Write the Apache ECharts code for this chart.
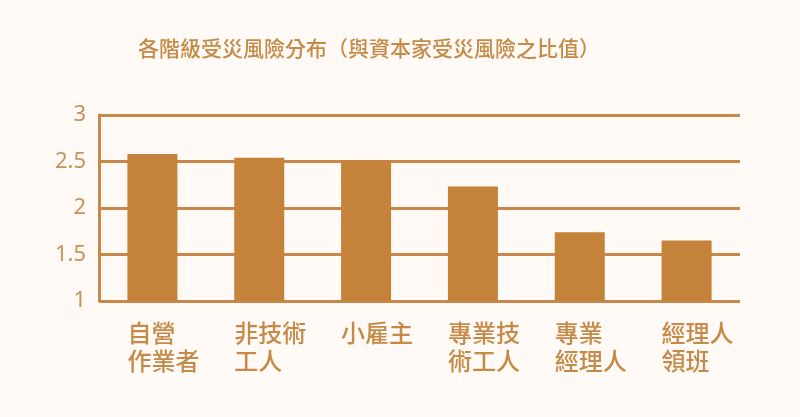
<!DOCTYPE html>
<html>
<head>
<meta charset="utf-8">
<script src="https://cdn.jsdelivr.net/npm/echarts@6/dist/echarts.min.js"></script>
<style>
html,body{margin:0;padding:0;background:#fffaf5;}
#chart{width:800px;height:417px;}
</style>
</head>
<body>
<div id="chart"></div>
<script>
const titleText = '各階級受災風險分布（與資本家受災風險之比值）';
const categories = ['自營\n作業者', '非技術\n工人', '小雇主', '專業技\n術工人', '專業\n經理人', '經理人\n領班'];
const values = [2.58, 2.54, 2.51, 2.23, 1.74, 1.65];
const yTicks = { min: 1, max: 3, interval: 0.5 };

const fontFam = '"Noto Sans CJK TC", "Noto Sans", sans-serif';
const textColor = '#c68a48';
const lineColor = '#c8884a';
const barColor = '#c4823b';

const chart = echarts.init(document.getElementById('chart'));
chart.setOption({
  backgroundColor: '#fffaf5',
  animation: false,
  title: {
    text: titleText,
    left: 133,
    top: 33,
    textStyle: { fontFamily: fontFam, fontSize: 21, fontWeight: 500, color: textColor }
  },
  grid: { left: 99, right: 60, top: 115, bottom: 116, containLabel: false },
  xAxis: {
    type: 'category',
    data: categories,
    axisLine: { show: false },
    axisTick: { show: false },
    axisLabel: {
      margin: 18,
      align: 'center',
      width: 50,
      overflow: 'none',
      formatter: v => '{a|' + v.split('\n').join('}\n{a|') + '}',
      rich: {
        a: { align: 'left', fontFamily: fontFam, fontSize: 24, lineHeight: 28, color: textColor, fontWeight: 500 }
      }
    }
  },
  yAxis: {
    type: 'value',
    min: yTicks.min,
    max: yTicks.max,
    interval: yTicks.interval,
    axisLine: { show: true, lineStyle: { color: lineColor, width: 3 } },
    axisTick: { show: false },
    axisLabel: { margin: 13, fontFamily: '"Noto Sans", sans-serif', fontSize: 22, color: '#c9925a' },
    splitLine: { show: true, lineStyle: { color: lineColor, width: 3 } }
  },
  series: [{
    type: 'bar',
    data: values,
    barWidth: 50,
    itemStyle: { color: barColor },
    z: 1
  }]
});
</script>
</body>
</html>
